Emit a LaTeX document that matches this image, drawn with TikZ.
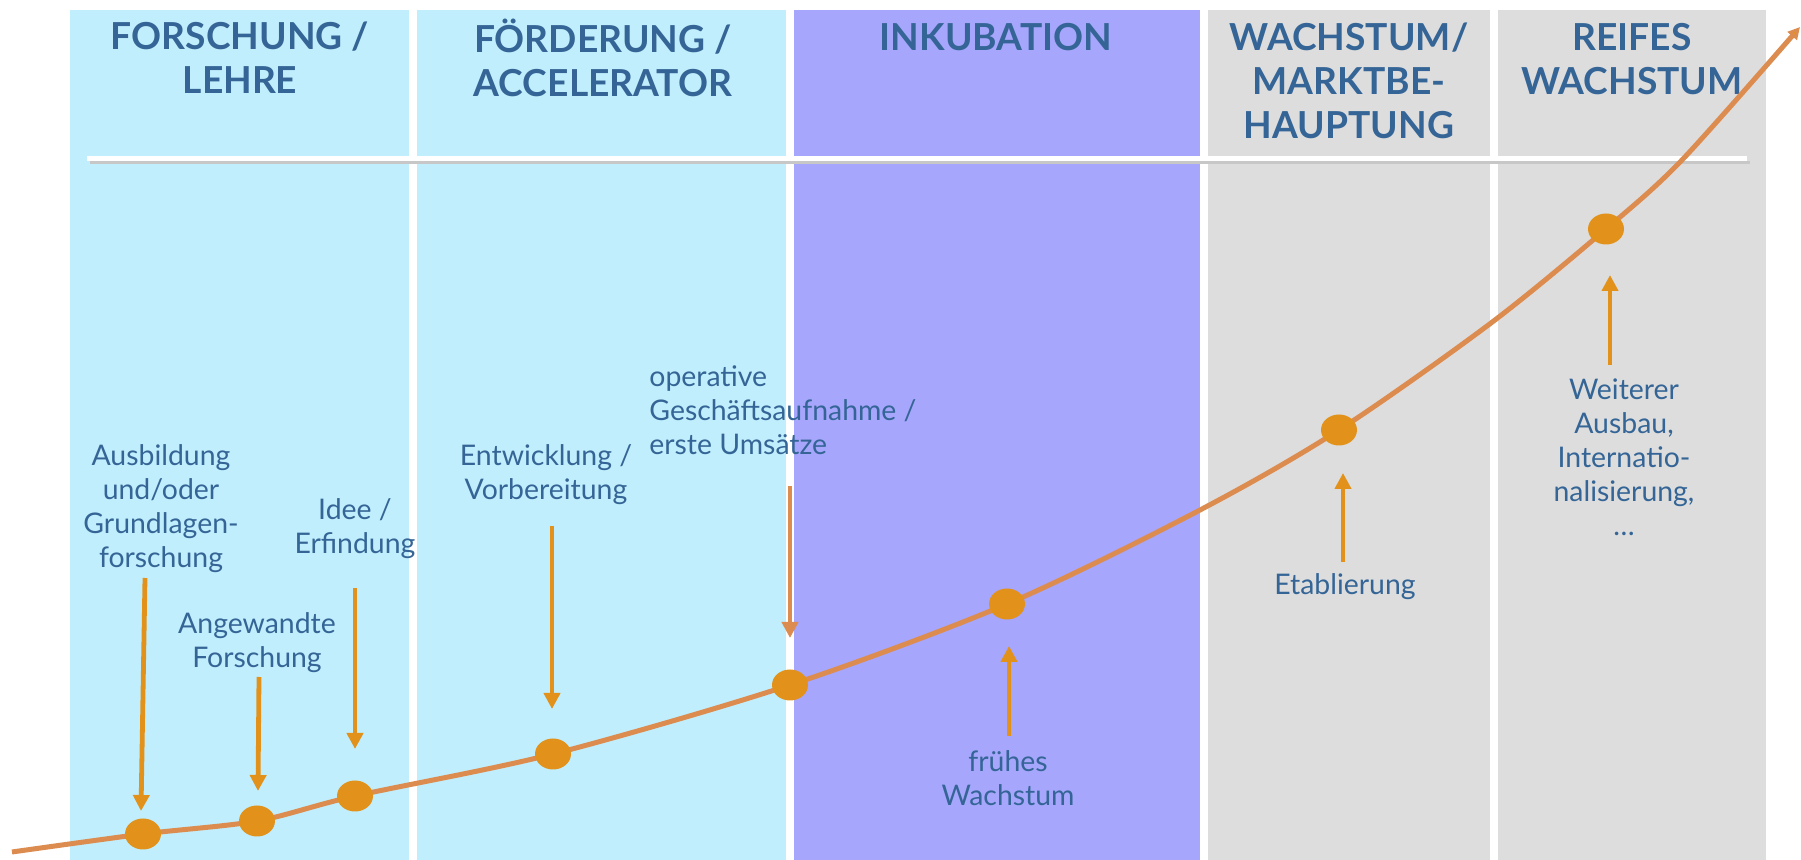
\documentclass[tikz,border=0pt]{standalone}
\usepackage{fontspec}
\setmainfont{Lato}
\usetikzlibrary{arrows.meta,shapes.geometric}
\definecolor{cyanbg}{RGB}{193,238,252}
\definecolor{purplebg}{RGB}{166,166,252}
\definecolor{graybg}{RGB}{221,221,221}
\definecolor{txtblue}{RGB}{52,101,150}
\definecolor{curvecol}{RGB}{221,140,80}
\definecolor{dotcol}{RGB}{226,146,26}
\begin{document}
\begin{tikzpicture}[x=0.5pt,y=-0.5pt,
  header/.style={text=txtblue,font=\bfseries\fontsize{18.6}{22}\selectfont,align=center,inner sep=0pt},
  lab/.style={text=txtblue,font=\fontsize{14.2}{17}\selectfont,align=center,inner sep=0pt},
  dot/.style={ellipse,fill=dotcol,minimum width=18pt,minimum height=15.5pt,inner sep=0pt},
  marker/.style={draw=dotcol,line width=2.4pt,-{Triangle[length=8pt,width=8pt,fill=dotcol]}},
  trend/.style={draw=curvecol,line width=2.5pt}
]
\fill[white] (0,0) rectangle (1801,860);
\useasboundingbox (0,0) rectangle (1801,860);
% phase columns
\fill[cyanbg] (70,10) rectangle (409,860);
\fill[cyanbg] (417,10) rectangle (786,860);
\fill[purplebg] (794,10) rectangle (1200,860);
\fill[graybg] (1208,10) rectangle (1490,860);
\fill[graybg] (1498,10) rectangle (1766,860);
% separator line with shadow
\draw[line width=1.4pt,black!22] (90,162.5) -- (1750,162.5);
\draw[line width=2.5pt,white] (87,159) -- (1747,159);
% headers
\node[header] (h1) at (240,58) {FORSCHUNG /\\LEHRE};
\node[header] (h2) at (603,58) {FÖRDERUNG /\\ACCELERATOR};
\node[header] (h3) at (996,37) {INKUBATION};
\node[header] (h4) at (1349,81) {WACHSTUM/\\MARKTBE-\\HAUPTUNG};
\node[header] (h5) at (1632,59) {REIFES\\WACHSTUM};
% curve points
\coordinate (c0) at (12,852);
\coordinate (p1) at (143,834);
\coordinate (p2) at (257,821);
\coordinate (p3) at (355,796);
\coordinate (p4) at (553,754);
\coordinate (p5) at (790,685);
\coordinate (p6) at (1007,604);
\coordinate (m1) at (1200,510);
\coordinate (p7) at (1339,430);
\coordinate (m2) at (1491,323);
\coordinate (p8) at (1606,229);
\coordinate (m3) at (1682,160);
\coordinate (cend) at (1800,27);
\draw[trend,-{Triangle[length=6pt,width=6pt,fill=dotcol]}] plot[smooth,tension=0.5] coordinates {(c0) (p1) (p2) (p3) (p4) (p5) (p6) (m1) (p7) (m2) (p8) (m3) (cend)};
% dots
\node[dot] (d1) at (p1) {};
\node[dot] (d2) at (p2) {};
\node[dot] (d3) at (p3) {};
\node[dot] (d4) at (p4) {};
\node[dot] (d5) at (p5) {};
\node[dot] (d6) at (p6) {};
\node[dot] (d7) at (p7) {};
\node[dot] (d8) at (p8) {};
% labels
\node[lab] (l1) at (161,509) {Ausbildung\\und/oder\\Grundlagen-\\forschung};
\node[lab] (l2) at (257,643) {Angewandte\\Forschung};
\node[lab] (l3) at (355,529) {Idee /\\Erfindung};
\node[lab] (l4) at (546,475) {Entwicklung /\\Vorbereitung};
\node[lab,align=left,anchor=west] (l5) at (649,410) {operative\\Geschäftsaufnahme /\\erste Umsätze};
\node[lab] (l6) at (1008,778) {frühes\\Wachstum};
\node[lab] (l7) at (1345,587) {Etablierung};
\node[lab] (l8) at (1624,457) {Weiterer\\Ausbau,\\Internatio-\\nalisierung,\\…};
% marker arrows
\coordinate (a1s) at (145,578); \coordinate (a1e) at (141,811);
\coordinate (a2s) at (259,677); \coordinate (a2e) at (258,791);
\coordinate (a3s) at (355,588); \coordinate (a3e) at (355,749);
\coordinate (a4s) at (552,526); \coordinate (a4e) at (552,709);
\coordinate (a5s) at (790,486); \coordinate (a5e) at (790,638);
\coordinate (a6s) at (1009,736); \coordinate (a6e) at (1009,646);
\coordinate (a7s) at (1343,562); \coordinate (a7e) at (1343,473);
\coordinate (a8s) at (1610,365); \coordinate (a8e) at (1610,275);
\draw[marker] (a1s) -- (a1e);
\draw[marker] (a2s) -- (a2e);
\draw[marker] (a3s) -- (a3e);
\draw[marker] (a4s) -- (a4e);
\draw[marker,draw=curvecol,-{Triangle[length=8pt,width=8pt,fill=curvecol]}] (a5s) -- (a5e);
\draw[marker] (a6s) -- (a6e);
\draw[marker] (a7s) -- (a7e);
\draw[marker] (a8s) -- (a8e);
\end{tikzpicture}
\end{document}
